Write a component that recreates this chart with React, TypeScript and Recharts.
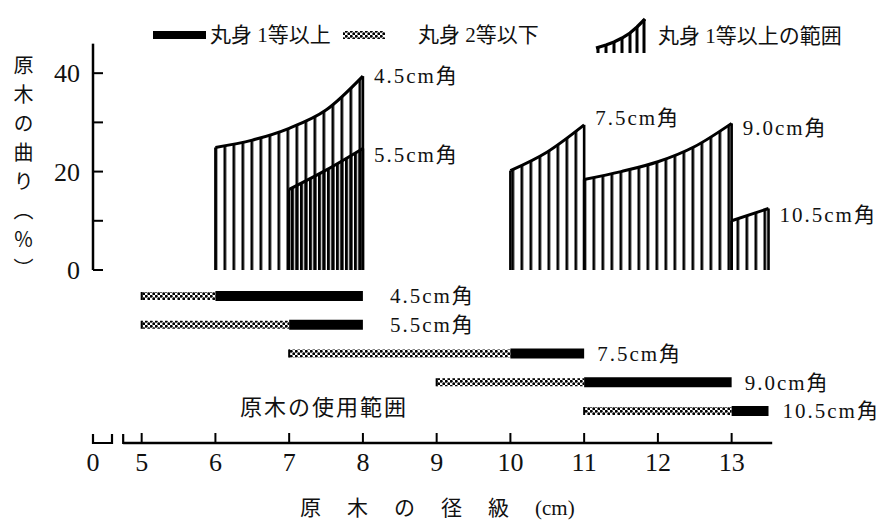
import React from "react";
import { ComposedChart, Area, Line, XAxis, YAxis, ReferenceLine } from "recharts";

const FONT = "'Liberation Serif', 'Noto Sans CJK JP', serif";

// ---- axes ----
const X_TICK_VALUES = [0, 5, 6, 7, 8, 9, 10, 11, 12, 13];
const X_TICK_LABELS = ["0", "5", "6", "7", "8", "9", "10", "11", "12", "13"];
const X_DOMAIN: [number, number] = [4.34, 13.55];
const X_ZERO_AT = 4.34; // where the broken-axis "0" sits
const X_BREAK_END = 4.748;

const Y_TICKS = [0, 10, 20, 30, 40];
const Y_TICK_LABELS = ["0", "", "20", "", "40"];
const Y_DOMAIN: [number, number] = [-35.16, 45.93];
const Y_AXIS_TOP = 46;

const ROW_DOMAIN: [number, number] = [-8.765, 5.113];

// ---- usage ranges (bottom bars) ----
const SIZE_NAMES = ["4.5cm角", "5.5cm角", "7.5cm角", "9.0cm角", "10.5cm角"];
const LOWER_FROM = [5, 5, 7, 9, 11];
const FIRST_FROM = [6, 7, 10, 11, 13];
const FIRST_TO = [8, 8, 11, 13, 13.5];

// ---- curvature (%) ranges for 1st grade ----
const C45_X = [6, 6.5, 7, 7.5, 8];
const C45_Y = [24.9, 26.4, 28.8, 32.5, 39.4];
const C55_X = [7, 7.5, 8];
const C55_Y = [16.4, 20.3, 24.7];
const C75_X = [10, 10.5, 11];
const C75_Y = [20.2, 24.0, 29.5];
const C90_X = [11, 11.5, 12, 12.5, 13];
const C90_Y = [18.4, 20.0, 22.0, 25.1, 29.8];
const C105_X = [13, 13.5];
const C105_Y = [10.0, 12.5];

const LEGEND_LABELS = ["丸身 1等以上", "丸身 2等以下", "丸身 1等以上の範囲"];
const Y_TITLE = "原木の曲り（％）";
const X_TITLE_MAIN = "原木の径級";
const X_TITLE_UNIT = "(cm)";
const RANGE_NOTE = "原木の使用範囲";

// styles (not data)
const CURVE_STYLE = [
  { fill: "url(#hatch)", dy: 0 },
  { fill: "url(#hatchDense)", dy: 6 },
  { fill: "url(#hatch)", dy: -7 },
  { fill: "url(#hatch)", dy: 4 },
  { fill: "url(#hatch)", dy: 6 },
];
const ROW_LABEL_GAP = [27, 27, 13, 13, 14];

const CURVES = [
  { xs: C45_X, ys: C45_Y },
  { xs: C55_X, ys: C55_Y },
  { xs: C75_X, ys: C75_Y },
  { xs: C90_X, ys: C90_Y },
  { xs: C105_X, ys: C105_Y },
];

const X_TICK_POS = X_TICK_VALUES.map((v) => (v === 0 ? X_ZERO_AT : v));

const XTick = (props: any) => {
  const { x, y, index } = props;
  const label = X_TICK_LABELS[index];
  return (
    <g>
      {index === 0 ? (
        <path d={`M${x},${y - 9}V${y}H${x + 19}V${y - 9}`} stroke="#000" strokeWidth={2.2} fill="none" />
      ) : (
        <line x1={x} x2={x} y1={y - 10} y2={y} stroke="#000" strokeWidth={2} />
      )}
      {index === 1 ? <line x1={x - 18.5} x2={x - 18.5} y1={y - 9} y2={y + 1} stroke="#000" strokeWidth={2.2} /> : null}
      <text x={x} y={y + 19} dy="0.35em" textAnchor="middle" fontSize={26} fontFamily={FONT} fill="#111">
        {label}
      </text>
    </g>
  );
};

const YTick = (props: any) => {
  const { x, y, payload } = props;
  const i = Y_TICKS.indexOf(payload.value);
  const label = Y_TICK_LABELS[i];
  return (
    <g>
      <line x1={x} x2={x + 10} y1={y} y2={y} stroke="#000" strokeWidth={2} />
      {label ? (
        <text x={x - 13} y={y} dy="0.35em" textAnchor="end" fontSize={26} fontFamily={FONT} fill="#111">
          {label}
        </text>
      ) : null}
    </g>
  );
};

const curveLabelDot = (n: number, text: string, dy: number) => (p: any) => {
  if (p.index !== n - 1) return <g key={`d${p.index}`} />;
  return (
    <text key={`d${p.index}`} x={p.cx + 11} y={p.cy + dy} dy="0.35em" fontSize={21} letterSpacing={2} fontFamily={FONT} fill="#111">
      {text}
    </text>
  );
};

const rowLabelDot = (text: string, gap: number) => (p: any) => {
  if (p.index !== 1) return <g key={`r${p.index}`} />;
  return (
    <text key={`r${p.index}`} x={p.cx + gap} y={p.cy} dy="0.35em" fontSize={21} letterSpacing={2} fontFamily={FONT} fill="#111">
      {text}
    </text>
  );
};

const rowStartDot = (p: any) => {
  if (p.index !== 0) return <g key={`s${p.index}`} />;
  return <line key={`s${p.index}`} x1={p.cx} x2={p.cx} y1={p.cy - 4} y2={p.cy + 4} stroke="#000" strokeWidth={2} />;
};

export default function App() {
  return (
    <div style={{ position: "absolute", left: 0, top: 0, width: 880, height: 523, background: "#fff" }}>
      <svg width={0} height={0} style={{ position: "absolute" }}>
        <defs>
          <pattern id="hatch" x={214.5} y={0} width={9} height={10} patternUnits="userSpaceOnUse">
            <rect x={0} y={0} width={2.7} height={10} fill="#000" />
          </pattern>
          <pattern id="hatchDense" x={214.5} y={0} width={4.5} height={10} patternUnits="userSpaceOnUse">
            <rect x={0} y={0} width={3} height={10} fill="#000" />
          </pattern>
          <pattern id="checker" x={0} y={0} width={5} height={5} patternUnits="userSpaceOnUse">
            <rect x={0} y={0} width={5} height={5} fill="#fff" />
            <circle cx={1.25} cy={1.25} r={1.45} fill="#000" />
            <circle cx={3.75} cy={3.75} r={1.45} fill="#000" />
          </pattern>
        </defs>
      </svg>
      <ComposedChart width={880} height={523} margin={{ top: 44, right: 107.8, bottom: 40, left: 33 }}>
        <XAxis
          type="number"
          dataKey="x"
          domain={X_DOMAIN}
          ticks={X_TICK_POS}
          interval={0}
          axisLine={false}
          tickLine={false}
          tickSize={0}
          tickMargin={0}
          height={40}
          tick={<XTick />}
        />
        <YAxis
          yAxisId="curve"
          type="number"
          domain={Y_DOMAIN}
          ticks={Y_TICKS}
          interval={0}
          axisLine={false}
          tickLine={false}
          tickSize={0}
          tickMargin={0}
          width={60}
          tick={<YTick />}
        />
        <YAxis yAxisId="rows" type="number" domain={ROW_DOMAIN} reversed hide />

        <ReferenceLine
          yAxisId="curve"
          segment={[{ x: X_DOMAIN[0], y: 0 }, { x: X_DOMAIN[0], y: Y_AXIS_TOP }]}
          stroke="#000"
          strokeWidth={2.5}
          ifOverflow="visible"
        />
        <ReferenceLine
          yAxisId="rows"
          segment={[{ x: X_BREAK_END, y: ROW_DOMAIN[1] }, { x: X_DOMAIN[1], y: ROW_DOMAIN[1] }]}
          stroke="#000"
          strokeWidth={2.5}
          ifOverflow="visible"
        />

        {CURVES.map((c, k) => (
          <Area
            key={`area${k}`}
            yAxisId="curve"
            data={c.xs.map((x, i) => ({ x, v: c.ys[i] }))}
            dataKey="v"
            type="monotone"
            baseValue={0}
            stroke="#000"
            strokeWidth={3}
            fill={CURVE_STYLE[k].fill}
            fillOpacity={1}
            dot={curveLabelDot(c.xs.length, SIZE_NAMES[k], CURVE_STYLE[k].dy)}
            activeDot={false}
            isAnimationActive={false}
          />
        ))}
        {CURVES.map((c, k) => (
          <ReferenceLine
            key={`eL${k}`}
            yAxisId="curve"
            segment={[{ x: c.xs[0], y: 0 }, { x: c.xs[0], y: c.ys[0] }]}
            stroke="#000"
            strokeWidth={2.6}
          />
        ))}
        {CURVES.map((c, k) => (
          <ReferenceLine
            key={`eR${k}`}
            yAxisId="curve"
            segment={[{ x: c.xs[c.xs.length - 1], y: 0 }, { x: c.xs[c.xs.length - 1], y: c.ys[c.ys.length - 1] }]}
            stroke="#000"
            strokeWidth={2.6}
          />
        ))}

        {SIZE_NAMES.map((name, i) => (
          <Line
            key={`low${i}`}
            yAxisId="rows"
            data={[{ x: LOWER_FROM[i], r: i }, { x: FIRST_FROM[i], r: i }]}
            dataKey="r"
            type="linear"
            stroke="url(#checker)"
            strokeWidth={8}
            dot={rowStartDot}
            activeDot={false}
            isAnimationActive={false}
          />
        ))}
        {SIZE_NAMES.map((name, i) => (
          <Line
            key={`first${i}`}
            yAxisId="rows"
            data={[{ x: FIRST_FROM[i], r: i }, { x: FIRST_TO[i], r: i }]}
            dataKey="r"
            type="linear"
            stroke="#000"
            strokeWidth={10}
            dot={rowLabelDot(name, ROW_LABEL_GAP[i])}
            activeDot={false}
            isAnimationActive={false}
          />
        ))}
      </ComposedChart>

      <svg width={880} height={523} style={{ position: "absolute", left: 0, top: 0, pointerEvents: "none" }}>
        {/* legend */}
        <rect x={153} y={31} width={53} height={8} fill="#000" />
        <text x={210} y={35} dy="0.35em" fontSize={21} fontFamily={FONT} fill="#111">{LEGEND_LABELS[0]}</text>
        <rect x={343} y={31} width={42} height={8} fill="url(#checker)" />
        <text x={418} y={35} dy="0.35em" fontSize={21} fontFamily={FONT} fill="#111">{LEGEND_LABELS[1]}</text>
        <g stroke="#000" strokeWidth={3}>
          <polyline points="596,48 606,45 614,42 622,38 630,33 637,27 645,19" fill="none" strokeWidth={3.2} />
          <line x1={598} x2={598} y1={47} y2={53} />
          <line x1={606} x2={606} y1={45} y2={53} />
          <line x1={614} x2={614} y1={42} y2={53} />
          <line x1={622} x2={622} y1={38} y2={53} />
          <line x1={630} x2={630} y1={33} y2={53} />
          <line x1={637} x2={637} y1={27} y2={53} />
          <line x1={644} x2={644} y1={19} y2={53} />
        </g>
        <text x={658} y={36} dy="0.35em" fontSize={21} fontFamily={FONT} fill="#111">{LEGEND_LABELS[2]}</text>

        {/* y title */}
        <text x={22} y={55} fontSize={20} fontFamily={FONT} fill="#111" style={{ writingMode: "vertical-rl" } as any} letterSpacing={9}>
          {Y_TITLE}
        </text>

        {/* note */}
        <text x={240} y={407} dy="0.35em" fontSize={22} letterSpacing={2} fontFamily={FONT} fill="#111">{RANGE_NOTE}</text>

        {/* x title */}
        <text x={300} y={508} dy="0.35em" fontSize={21} fontFamily={FONT} fill="#111">
          <tspan letterSpacing={26}>{X_TITLE_MAIN}</tspan>
          <tspan>{X_TITLE_UNIT}</tspan>
        </text>
      </svg>
    </div>
  );
}
